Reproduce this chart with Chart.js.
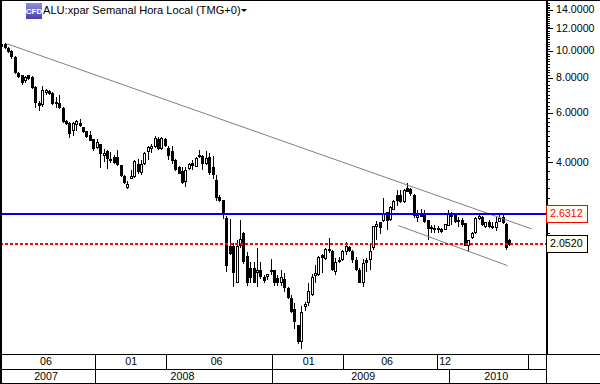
<!DOCTYPE html>
<html>
<head>
<meta charset="utf-8">
<title>ALU:xpar</title>
<style>
    html, body { margin: 0; padding: 0; background: #fff; }
    #chart-box { position: relative; width: 600px; height: 384px; }
</style>
<script src="https://cdn.jsdelivr.net/npm/chart.js@4/dist/chart.umd.min.js"></script>
</head>
<body>
<div id="chart-box"><canvas id="myChart" width="600" height="384"></canvas></div>
<script>
const chartTitle = 'ALU:xpar Semanal Hora Local (TMG+0)';

// weekly candles
const opens = [
    10.33, 10.62, 10.27, 9.99, 9.52, 8.39, 8.21, 7.82, 8.21, 8.12,
    7.48, 6.56, 6.42, 7.12, 7.24, 7.12, 6.46, 6.53, 6.28, 5.63,
    5.57, 5.21, 5.45, 5.57, 5.36, 5.19, 5.03, 4.85, 4.53, 4.68,
    4.25, 4.42, 4.06, 4.21, 4.19, 3.93, 3.60, 3.27, 3.52, 3.56,
    3.97, 3.67, 3.97, 4.37, 4.47, 4.55, 4.87, 4.47, 4.87, 4.52,
    4.40, 4.10, 3.88, 3.73, 3.43, 3.80, 4.01, 3.88, 4.19, 4.23,
    3.97, 4.19, 3.88, 3.48, 3.02, 2.95, 2.54, 2.02, 2.03, 1.50,
    2.02, 2.25, 1.86, 1.69, 1.69, 1.62, 1.67, 1.57, 1.57, 1.64,
    1.66, 1.56, 1.49, 1.55, 1.44, 1.32, 1.21, 1.06, 0.92, 1.23,
    1.27, 1.36, 1.59, 1.60, 1.88, 1.82, 1.94, 1.94, 1.64, 1.77,
    1.81, 1.93, 2.01, 1.94, 1.81, 1.66, 1.49, 1.81, 1.80, 1.99,
    2.36, 2.47, 2.49, 2.67, 2.51, 2.73, 3.07, 3.07, 2.91, 3.26,
    3.23, 3.07, 2.54, 2.65, 2.63, 2.50, 2.32, 2.34, 2.34, 2.32,
    2.31, 2.39, 2.65, 2.61, 2.46, 2.51, 2.45, 2.03, 2.16, 2.25,
    2.53, 2.57, 2.36, 2.47, 2.39, 2.34, 2.47, 2.57, 2.43, 2.13
];
const highs = [
    10.73, 10.73, 10.38, 10.10, 9.57, 8.44, 8.25, 8.17, 8.25, 8.17,
    7.53, 6.63, 7.53, 7.36, 7.28, 7.16, 6.88, 6.96, 6.30, 5.69,
    5.60, 5.60, 5.69, 5.75, 5.39, 5.21, 5.21, 4.86, 4.88, 4.69,
    4.50, 4.45, 4.37, 4.26, 4.45, 3.94, 3.62, 3.46, 3.76, 4.09,
    4.12, 4.10, 4.37, 4.60, 4.68, 4.99, 4.96, 4.96, 4.91, 4.58,
    4.60, 4.12, 3.90, 3.88, 3.88, 3.99, 4.10, 4.19, 4.45, 4.26,
    4.42, 4.35, 4.23, 3.63, 3.07, 2.96, 2.60, 2.53, 2.07, 2.13,
    2.51, 2.27, 1.93, 1.78, 1.78, 1.99, 1.77, 1.60, 1.61, 1.82,
    1.67, 1.60, 1.66, 1.62, 1.45, 1.36, 1.27, 1.06, 1.24, 1.28,
    1.50, 1.61, 1.73, 1.86, 1.89, 1.99, 2.17, 1.96, 1.84, 1.85,
    1.96, 2.09, 2.02, 1.96, 1.85, 1.69, 1.82, 1.84, 2.04, 2.39,
    2.48, 2.47, 2.99, 2.68, 2.81, 2.95, 3.21, 3.21, 3.23, 3.40,
    3.26, 3.10, 2.72, 2.74, 2.72, 2.51, 2.41, 2.41, 2.39, 2.34,
    2.43, 2.72, 2.68, 2.65, 2.56, 2.55, 2.45, 2.13, 2.28, 2.56,
    2.65, 2.59, 2.47, 2.51, 2.47, 2.57, 2.61, 2.63, 2.45, 2.15
];
const lows = [
    10.16, 10.21, 9.84, 9.41, 8.30, 8.01, 7.57, 7.73, 7.86, 7.36,
    6.25, 6.14, 6.35, 6.99, 6.96, 6.42, 6.28, 6.22, 5.57, 5.48,
    4.91, 4.99, 5.21, 5.36, 5.10, 4.91, 4.78, 4.40, 4.48, 3.83,
    4.03, 3.82, 3.99, 3.97, 3.90, 3.56, 3.37, 3.22, 3.50, 3.54,
    3.64, 3.62, 3.93, 4.09, 4.35, 4.51, 4.45, 4.45, 4.56, 4.09,
    3.97, 3.75, 3.64, 3.36, 3.29, 3.78, 3.78, 3.86, 4.16, 3.76,
    3.93, 3.62, 3.50, 2.92, 2.91, 2.53, 1.64, 1.88, 1.45, 1.49,
    1.99, 1.75, 1.46, 1.50, 1.49, 1.45, 1.55, 1.49, 1.53, 1.60,
    1.46, 1.46, 1.46, 1.39, 1.31, 1.17, 1.03, 0.91, 0.87, 1.19,
    1.24, 1.34, 1.50, 1.59, 1.62, 1.80, 1.91, 1.65, 1.60, 1.76,
    1.79, 1.88, 1.93, 1.76, 1.65, 1.49, 1.45, 1.64, 1.66, 1.96,
    2.13, 2.24, 2.47, 2.31, 2.49, 2.72, 2.81, 2.89, 2.89, 3.14,
    3.04, 2.54, 2.46, 2.57, 2.45, 2.13, 2.25, 2.26, 2.25, 2.25,
    2.30, 2.38, 2.41, 2.45, 2.36, 2.36, 2.02, 1.93, 2.14, 2.24,
    2.51, 2.38, 2.34, 2.34, 2.32, 2.29, 2.46, 2.42, 1.96, 2.03
];
const closes = [
    10.62, 10.27, 9.89, 9.52, 8.39, 8.08, 7.73, 8.08, 7.95, 7.40,
    6.53, 6.39, 7.28, 7.28, 7.04, 6.49, 6.60, 6.28, 5.60, 5.51,
    5.08, 5.57, 5.63, 5.42, 5.15, 4.96, 4.80, 4.50, 4.75, 4.30,
    4.33, 4.12, 4.14, 4.01, 3.93, 3.60, 3.39, 3.37, 3.60, 4.07,
    3.72, 3.97, 4.33, 4.55, 4.58, 4.90, 4.47, 4.90, 4.58, 4.25,
    4.05, 3.78, 3.66, 3.38, 3.76, 3.96, 3.90, 4.16, 4.26, 3.97,
    4.16, 3.68, 3.63, 2.99, 2.92, 2.66, 1.72, 1.89, 1.62, 2.02,
    2.14, 1.77, 1.49, 1.56, 1.50, 1.66, 1.57, 1.52, 1.61, 1.67,
    1.50, 1.49, 1.57, 1.44, 1.32, 1.18, 1.09, 0.92, 1.18, 1.26,
    1.40, 1.57, 1.63, 1.85, 1.84, 1.97, 1.97, 1.66, 1.78, 1.81,
    1.94, 2.03, 1.94, 1.81, 1.66, 1.49, 1.76, 1.76, 1.95, 2.38,
    2.43, 2.35, 2.66, 2.49, 2.79, 2.93, 2.93, 2.91, 3.21, 3.16,
    3.11, 2.58, 2.61, 2.57, 2.46, 2.32, 2.36, 2.30, 2.30, 2.28,
    2.43, 2.63, 2.57, 2.46, 2.51, 2.41, 2.03, 2.13, 2.25, 2.54,
    2.59, 2.41, 2.46, 2.36, 2.34, 2.47, 2.54, 2.45, 1.99, 2.05
];

// price levels and trend lines (week number, price)
const blueLevel = 2.6312;
const redLevel = 2.052;
const upperTrendWeeks = [1.55, 155.4];
const upperTrendPrices = [10.62, 2.33];
const lowerTrendWeeks = [116.3, 148.3];
const lowerTrendPrices = [2.395, 1.725];

// price axis
const priceLabels = [14, 12, 10, 8, 6, 4];
const priceMinorTicks = [
    14.8, 14.6, 14.4, 14.2, 13.8, 13.6, 13.4, 13.2, 13, 12.8, 12.6, 12.4, 12.2,
    11.8, 11.6, 11.4, 11.2, 11, 10.8, 10.6, 10.4, 10.2, 9.8, 9.6, 9.4, 9.2, 9,
    8.8, 8.6, 8.4, 8.2, 7.8, 7.6, 7.4, 7.2, 7, 6.8, 6.6, 6.4, 6.2, 5.8, 5.6,
    5.4, 5.2, 5, 4.8, 4.6, 4.4, 4.2, 3.75, 3.5, 3.25, 3, 2.75, 2.5, 2.25
];

// time axis rows (week numbers)
const monthLabels = ['06', '01', '06', '01', '06', '12'];
const monthLabelWeeks = [13, 38, 63, 90, 113, 130];
const monthBreaks = [27.4, 48.2, 79.3, 100.1, 127.7, 154.3];
const yearLabels = ['2007', '2008', '2009', '2010'];
const yearLabelWeeks = [13, 53, 106, 145];
const yearBreaks = [27.4, 79.3, 131.2];

const weeks = opens.map((_, i) => i);
const fontName = '"Liberation Sans", Arial, sans-serif';

// the canvas is opaque so the text is rendered like the original
const canvas = document.getElementById('myChart');
const ctx = canvas.getContext('2d', { alpha: false });

function crisp(v) {
    return Math.floor(v) + 0.5;
}

const sketchPlugin = {
    id: 'sketch',
    beforeDraw(chart) {
        const c = chart.ctx;
        c.save();
        c.fillStyle = '#fff';
        c.fillRect(0, 0, 600, 384);
        c.restore();
    },
    beforeDatasetsDraw(chart) {
        // snap marks to whole pixels, the original has no smoothing on them
        chart.data.datasets.forEach((ds, i) => {
            const meta = chart.getDatasetMeta(i);
            if (ds.type === 'bar') {
                meta.data.forEach(el => {
                    el.x = crisp(el.x);
                    el.y = Math.round(el.y);
                    el.base = Math.round(el.base);
                });
            } else if (ds.level) {
                meta.data.forEach(el => { el.y = Math.round(el.y); });
            }
        });
    },
    afterDraw(chart) {
        const c = chart.ctx;
        const xs = chart.scales.x;
        const ys = chart.scales.y;
        const right = chart.chartArea.right;
        const bottom = chart.chartArea.bottom;
        c.save();
        c.fillStyle = '#000';

        // frame
        c.fillRect(0, 0, 600, 1);
        c.fillRect(0, 0, 2, 384);
        c.fillRect(0, 383, 600, 1);

        // price axis line and minor ticks
        c.fillRect(right, 0, 2, bottom);
        priceMinorTicks.forEach(p => {
            c.fillRect(right, Math.round(ys.getPixelForValue(p)), 4, 1);
        });

        // time rows
        c.fillRect(0, bottom, 600, 1);
        c.fillRect(0, bottom + 15, right, 1);
        c.fillRect(right, bottom, 1, 30);
        monthBreaks.forEach(w => {
            c.fillRect(Math.round(xs.getPixelForValue(w)), bottom, 1, 15);
        });
        yearBreaks.forEach(w => {
            c.fillRect(Math.round(xs.getPixelForValue(w)), bottom + 15, 1, 15);
        });

        // level boxes on the price axis
        drawLevelBox(c, ys, blueLevel, '#ff0000', right);
        drawLevelBox(c, ys, redLevel, '#000000', right);

        // symbol icon
        const grad = c.createLinearGradient(26, 3, 26, 19);
        grad.addColorStop(0, '#8f8fe0');
        grad.addColorStop(1, '#4a3fa8');
        c.fillStyle = grad;
        c.fillRect(26, 3, 16, 16);
        c.fillStyle = '#fff';
        c.font = 'bold 8px ' + fontName;
        c.textAlign = 'center';
        c.textBaseline = 'middle';
        c.fillText('CFD', 34, 12);

        // title
        c.fillStyle = '#000';
        c.font = '11.1px ' + fontName;
        c.textAlign = 'left';
        c.fillText(chartTitle, 43, 11);
        c.beginPath();
        c.moveTo(241, 9);
        c.lineTo(247, 9);
        c.lineTo(244, 12);
        c.closePath();
        c.fill();
        c.restore();
    }
};

function drawLevelBox(c, ys, level, colour, right) {
    const mid = Math.round(ys.getPixelForValue(level));
    c.fillStyle = '#fffff0';
    c.fillRect(right, mid - 9, 42, 18);
    c.strokeStyle = colour;
    c.lineWidth = 1;
    c.strokeRect(right + 0.5, mid - 8.5, 41, 17);
    c.fillStyle = colour;
    c.font = '10.67px ' + fontName;
    c.textAlign = 'left';
    c.textBaseline = 'middle';
    c.fillText(level.toFixed(4), right + 4, mid + 0.5);
}

function lineData(xValues, yValues) {
    return xValues.map((x, i) => ({ x, y: yValues[i] }));
}

const timeAxis = (labels, labelWeeks) => ({
    type: 'linear',
    axis: 'x',
    position: 'bottom',
    offset: false,
    min: -0.5,
    max: 159.6,
    grid: { display: false, drawTicks: false, offset: false },
    border: { display: false },
    afterBuildTicks: axis => { axis.ticks = labelWeeks.map(value => ({ value })); },
    afterFit: axis => {
        axis.height = 15;
        axis.paddingLeft = 0;
        axis.paddingRight = 0;
    },
    ticks: {
        autoSkip: false,
        maxRotation: 0,
        padding: 2,
        color: '#000',
        font: { family: fontName, size: 10.67 },
        callback: (value, index) => labels[index]
    }
});

new Chart(ctx, {
    data: {
        datasets: [
            {
                type: 'line',
                level: true,
                order: 0,
                data: lineData([-0.5, 159.6], [redLevel, redLevel]),
                borderColor: '#ff0000',
                borderWidth: 2,
                borderDash: [3, 2],
                pointRadius: 0
            },
            {
                type: 'line',
                level: true,
                order: 0,
                data: lineData([-0.5, 159.6], [blueLevel, blueLevel]),
                borderColor: '#0000e6',
                borderWidth: 2,
                pointRadius: 0
            },
            {
                type: 'line',
                order: 0,
                data: lineData(upperTrendWeeks, upperTrendPrices),
                borderColor: '#808080',
                borderWidth: 1,
                pointRadius: 0
            },
            {
                type: 'line',
                order: 0,
                data: lineData(lowerTrendWeeks, lowerTrendPrices),
                borderColor: '#808080',
                borderWidth: 1,
                pointRadius: 0
            },
            {
                type: 'bar',
                order: 1,
                grouped: false,
                data: weeks.map(i => ({ x: i, y: [opens[i], closes[i]] })),
                barThickness: 3,
                borderWidth: 1,
                borderColor: '#000',
                borderSkipped: false,
                inflateAmount: 0,
                backgroundColor: c => (closes[c.dataIndex] >= opens[c.dataIndex] ? '#fff' : '#000')
            },
            {
                type: 'bar',
                order: 2,
                grouped: false,
                data: weeks.map(i => ({ x: i, y: [lows[i], highs[i]] })),
                barThickness: 1,
                borderWidth: 0,
                inflateAmount: 0,
                backgroundColor: '#000'
            }
        ]
    },
    options: {
        responsive: false,
        animation: false,
        events: [],
        layout: { padding: 0 },
        plugins: { legend: { display: false }, tooltip: { enabled: false } },
        scales: {
            x: timeAxis(monthLabels, monthLabelWeeks),
            xYear: timeAxis(yearLabels, yearLabelWeeks),
            y: {
                type: 'logarithmic',
                position: 'right',
                min: 0.836,
                max: 15.2,
                border: { display: false },
                grid: { drawOnChartArea: false, tickLength: 7, tickColor: '#000' },
                afterBuildTicks: axis => { axis.ticks = priceLabels.map(value => ({ value })); },
                afterFit: axis => {
                    axis.width = 54;
                    axis.paddingTop = 0;
                    axis.paddingBottom = 0;
                },
                ticks: {
                    autoSkip: false,
                    padding: 3,
                    color: '#000',
                    font: { family: fontName, size: 10.67 },
                    callback: value => value.toFixed(4)
                }
            }
        }
    },
    plugins: [sketchPlugin]
});
</script>
</body>
</html>
